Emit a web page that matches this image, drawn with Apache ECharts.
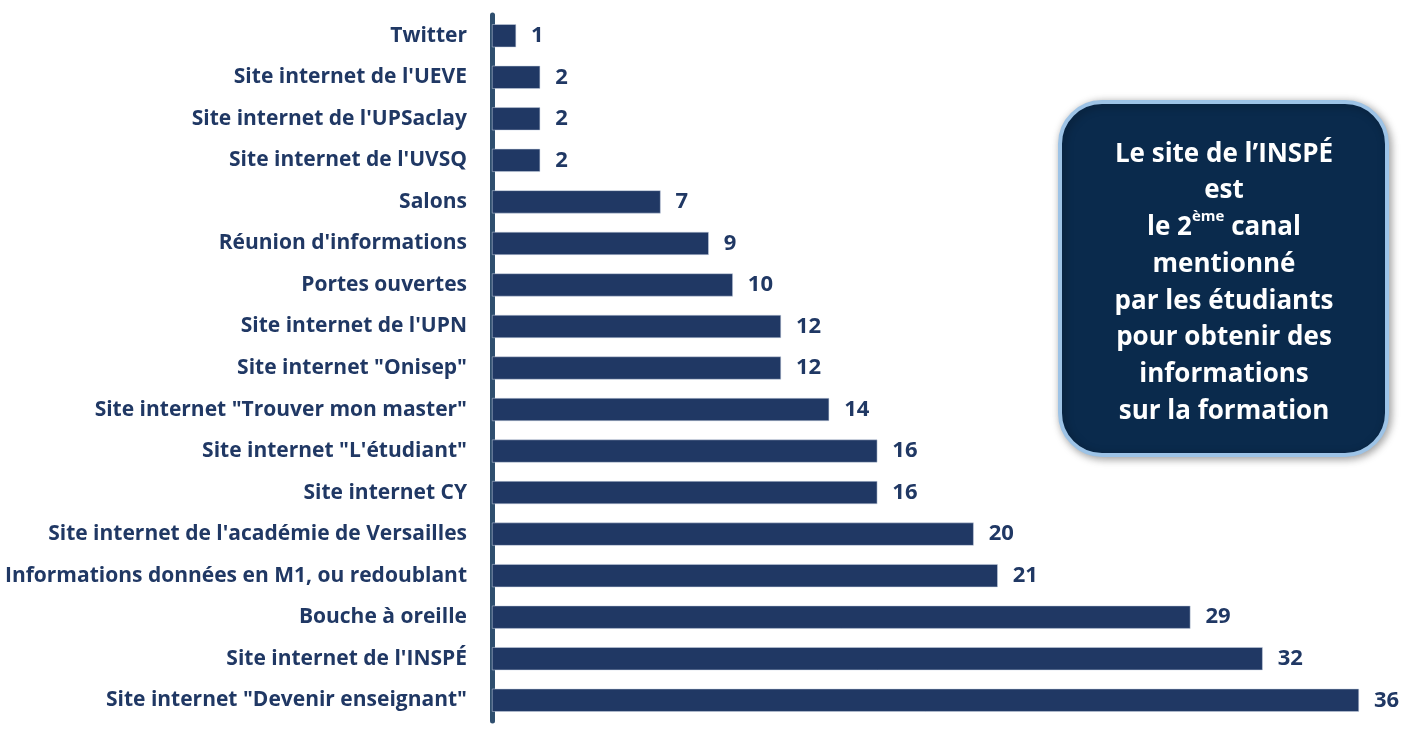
<!DOCTYPE html>
<html><head><meta charset="utf-8">
<script src="https://cdn.jsdelivr.net/npm/echarts@6/dist/echarts.min.js"></script>
<style>html,body{margin:0;padding:0;background:#fff}#c{width:1416px;height:729px}</style>
</head><body><div id="c"></div>
<script>
const categories = [
  'Site internet "Devenir enseignant"',
  "Site internet de l'INSPÉ",
  'Bouche à oreille',
  'Informations données en M1, ou redoublant',
  "Site internet de l'académie de Versailles",
  'Site internet CY',
  'Site internet "L\'étudiant"',
  'Site internet "Trouver mon master"',
  'Site internet "Onisep"',
  "Site internet de l'UPN",
  'Portes ouvertes',
  "Réunion d'informations",
  'Salons',
  "Site internet de l'UVSQ",
  "Site internet de l'UPSaclay",
  "Site internet de l'UEVE",
  'Twitter'
];
const values = [36, 32, 29, 21, 20, 16, 16, 14, 12, 12, 10, 9, 7, 2, 2, 2, 1];
const calloutLines = ["Le site de l’INSPÉ", "est", "le 2{sup|ème} canal", "mentionné", "par les étudiants", "pour obtenir des", "informations", "sur la formation"];

const navy = '#203864';
const font = 'Open Sans';
const chart = echarts.init(document.getElementById('c'), null, {renderer: 'canvas'});
chart.setOption({
  animation: false,
  backgroundColor: '#ffffff',
  grid: {left: 492, right: 57, top: 15, bottom: 8, containLabel: false},
  xAxis: {type: 'value', min: 0, max: 36, show: false},
  yAxis: {
    type: 'category', data: categories,
    axisLine: {show: true, lineStyle: {color: '#2f4f6f', width: 5}},
    axisTick: {show: false},
    axisLabel: {margin: 25, color: navy, fontFamily: font, fontWeight: 'bold', fontSize: 21}
  },
  series: [{
    type: 'bar', data: values, barWidth: 23,
    itemStyle: {color: navy, borderColor: '#c9d3e3', borderWidth: 0.5},
    label: {show: true, position: 'right', distance: 15, color: navy, fontFamily: font, fontWeight: 'bold', fontSize: 22}
  }],
  graphic: [
    {type: 'rect', x: 1060, y: 102, z: 100,
     shape: {width: 327, height: 353, r: 42},
     style: {fill: '#0a2a4c', stroke: '#9dc3e6', lineWidth: 4, shadowBlur: 8, shadowColor: 'rgba(0,0,0,0.35)', shadowOffsetX: 2, shadowOffsetY: 2}},
    {type: 'text', z: 101, x: 1224, y: 136,
     style: {
       text: calloutLines.join('\n'),
       fill: '#ffffff', fontFamily: font, fontWeight: 'bold', fontSize: 26, lineHeight: 36.7,
       align: 'center', verticalAlign: 'top',
       rich: {sup: {fontSize: 15, fontFamily: font, fontWeight: 'bold', fill: '#ffffff', verticalAlign: 'top', lineHeight: 22}}
     }}
  ]
});
</script></body></html>
